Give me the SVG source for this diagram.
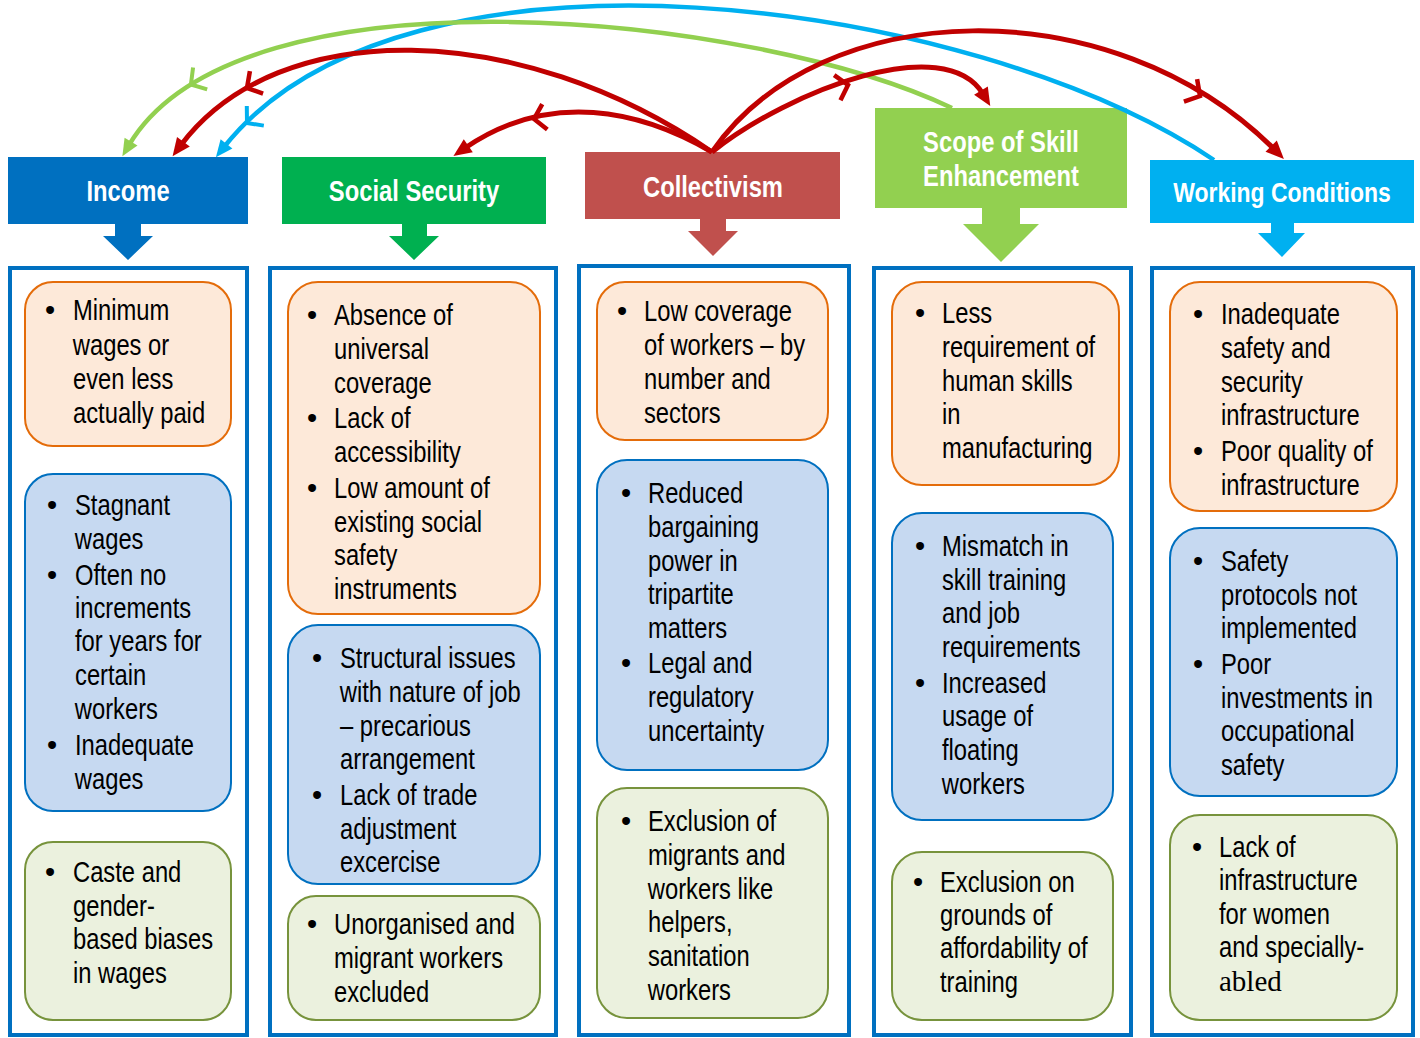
<svg xmlns="http://www.w3.org/2000/svg" width="1420" height="1038" viewBox="0 0 1420 1038">
<defs>
<style>
.col{fill:#fff;stroke:#0070C0;stroke-width:4}
.or{fill:#FDE9D9;stroke:#E46C0A;stroke-width:2}
.bl{fill:#C6D9F1;stroke:#0070C0;stroke-width:2}
.gr{fill:#EBF1DE;stroke:#77933C;stroke-width:2}
.hd{font-family:"Liberation Sans Narrow","Liberation Sans",Arial,sans-serif;font-weight:bold;font-size:29px;fill:#fff;text-anchor:middle;transform-box:fill-box;transform-origin:center;transform:scaleX(0.82)}
.tx{font-family:"Liberation Sans Narrow","Liberation Sans",Arial,sans-serif;font-size:29px;fill:#000;transform-box:fill-box;transform-origin:0 0;transform:scaleX(0.82)}
.bu{font-family:"Liberation Sans",Arial,sans-serif;font-size:29px;fill:#000;text-anchor:middle}
.sf{font-family:"Liberation Serif","Times New Roman",serif;transform:none}
.cr{fill:none;stroke:#C00000;stroke-width:5}
.cg{fill:none;stroke:#92D050;stroke-width:4.5}
.cb{fill:none;stroke:#00B0F0;stroke-width:4.5}
</style>
<marker id="ahR" markerUnits="userSpaceOnUse" markerWidth="30" markerHeight="30" viewBox="-15 -15 30 30" refX="0" refY="0" orient="auto" overflow="visible"><path d="M-4,-8 L14,0 L-4,8 z" fill="#C00000"/></marker>
<marker id="ahG" markerUnits="userSpaceOnUse" markerWidth="30" markerHeight="30" viewBox="-15 -15 30 30" refX="0" refY="0" orient="auto" overflow="visible"><path d="M-4,-7.5 L13,0 L-4,7.5 z" fill="#92D050"/></marker>
<marker id="ahB" markerUnits="userSpaceOnUse" markerWidth="30" markerHeight="30" viewBox="-15 -15 30 30" refX="0" refY="0" orient="auto" overflow="visible"><path d="M-4,-7.5 L13,0 L-4,7.5 z" fill="#00B0F0"/></marker>
<marker id="chR" markerUnits="userSpaceOnUse" markerWidth="30" markerHeight="30" viewBox="-15 -15 30 30" refX="0" refY="0" orient="auto" overflow="visible"><path d="M-11,-13 L0,0 L-11,13" fill="none" stroke="#C00000" stroke-width="4.5"/></marker>
<marker id="chG" markerUnits="userSpaceOnUse" markerWidth="30" markerHeight="30" viewBox="-15 -15 30 30" refX="0" refY="0" orient="auto" overflow="visible"><path d="M-11,-13 L0,0 L-11,13" fill="none" stroke="#92D050" stroke-width="4"/></marker>
<marker id="chB" markerUnits="userSpaceOnUse" markerWidth="30" markerHeight="30" viewBox="-15 -15 30 30" refX="0" refY="0" orient="auto" overflow="visible"><path d="M-11,-13 L0,0 L-11,13" fill="none" stroke="#00B0F0" stroke-width="4"/></marker>
</defs>
<rect width="1420" height="1038" fill="#fff"/>

<g id="income">
<rect x="8" y="157" width="240" height="67" fill="#0070C0"/>
<text class="hd" x="128" y="201">Income</text>
<polygon points="115,224 141,224 141,236 153,236 128,260 103,236 115,236" fill="#0070C0"/>
<rect class="col" x="10" y="268" width="237" height="767"/>
<rect class="or" x="25" y="282" width="206" height="164" rx="28"/>
<text class="bu" x="50" y="320">•</text>
<text class="tx" x="73" y="320">Minimum</text>
<text class="tx" x="73" y="355">wages or</text>
<text class="tx" x="73" y="389">even less</text>
<text class="tx" x="73" y="423">actually paid</text>
<rect class="bl" x="25" y="474" width="206" height="337" rx="28"/>
<text class="bu" x="52" y="515">•</text>
<text class="tx" x="75" y="515">Stagnant</text>
<text class="tx" x="75" y="549">wages</text>
<text class="bu" x="52" y="585">•</text>
<text class="tx" x="75" y="585">Often no</text>
<text class="tx" x="75" y="618">increments</text>
<text class="tx" x="75" y="651">for years for</text>
<text class="tx" x="75" y="685">certain</text>
<text class="tx" x="75" y="719">workers</text>
<text class="bu" x="52" y="755">•</text>
<text class="tx" x="75" y="755">Inadequate</text>
<text class="tx" x="75" y="789">wages</text>
<rect class="gr" x="25" y="842" width="206" height="178" rx="28"/>
<text class="bu" x="50" y="882">•</text>
<text class="tx" x="73" y="882">Caste and</text>
<text class="tx" x="73" y="916">gender-</text>
<text class="tx" x="73" y="949">based biases</text>
<text class="tx" x="73" y="983">in wages</text>
</g>

<g id="social-security">
<rect x="282" y="157" width="264" height="67" fill="#00B050"/>
<text class="hd" x="414" y="201">Social Security</text>
<polygon points="402,224 427,224 427,236 439,236 414,260 389,236 402,236" fill="#00B050"/>
<rect class="col" x="270" y="268" width="286" height="767"/>
<rect class="or" x="288" y="282" width="252" height="332" rx="30"/>
<text class="bu" x="312" y="325">•</text>
<text class="tx" x="334" y="325">Absence of</text>
<text class="tx" x="334" y="359">universal</text>
<text class="tx" x="334" y="393">coverage</text>
<text class="bu" x="312" y="428">•</text>
<text class="tx" x="334" y="428">Lack of</text>
<text class="tx" x="334" y="462">accessibility</text>
<text class="bu" x="312" y="498">•</text>
<text class="tx" x="334" y="498">Low amount of</text>
<text class="tx" x="334" y="532">existing social</text>
<text class="tx" x="334" y="565">safety</text>
<text class="tx" x="334" y="599">instruments</text>
<rect class="bl" x="288" y="625" width="252" height="259" rx="30"/>
<text class="bu" x="317" y="668">•</text>
<text class="tx" x="340" y="668">Structural issues</text>
<text class="tx" x="340" y="702">with nature of job</text>
<text class="tx" x="340" y="736">– precarious</text>
<text class="tx" x="340" y="769">arrangement</text>
<text class="bu" x="317" y="805">•</text>
<text class="tx" x="340" y="805">Lack of trade</text>
<text class="tx" x="340" y="839">adjustment</text>
<text class="tx" x="340" y="872">excercise</text>
<rect class="gr" x="288" y="896" width="252" height="124" rx="28"/>
<text class="bu" x="312" y="934">•</text>
<text class="tx" x="334" y="934">Unorganised and</text>
<text class="tx" x="334" y="968">migrant workers</text>
<text class="tx" x="334" y="1002">excluded</text>
</g>

<g id="collectivism">
<rect x="585" y="152" width="255" height="67" fill="#C0504D"/>
<text class="hd" x="713" y="197">Collectivism</text>
<polygon points="700,219 726,219 726,231 738,231 713,256 688,231 700,231" fill="#C0504D"/>
<rect class="col" x="579" y="266" width="270" height="769"/>
<rect class="or" x="597" y="282" width="231" height="158" rx="28"/>
<text class="bu" x="622" y="321">•</text>
<text class="tx" x="644" y="321">Low coverage</text>
<text class="tx" x="644" y="355">of workers – by</text>
<text class="tx" x="644" y="389">number and</text>
<text class="tx" x="644" y="423">sectors</text>
<rect class="bl" x="597" y="460" width="231" height="310" rx="30"/>
<text class="bu" x="626" y="503">•</text>
<text class="tx" x="648" y="503">Reduced</text>
<text class="tx" x="648" y="537">bargaining</text>
<text class="tx" x="648" y="571">power in</text>
<text class="tx" x="648" y="604">tripartite</text>
<text class="tx" x="648" y="638">matters</text>
<text class="bu" x="626" y="673">•</text>
<text class="tx" x="648" y="673">Legal and</text>
<text class="tx" x="648" y="707">regulatory</text>
<text class="tx" x="648" y="741">uncertainty</text>
<rect class="gr" x="597" y="788" width="231" height="230" rx="30"/>
<text class="bu" x="626" y="831">•</text>
<text class="tx" x="648" y="831">Exclusion of</text>
<text class="tx" x="648" y="865">migrants and</text>
<text class="tx" x="648" y="899">workers like</text>
<text class="tx" x="648" y="932">helpers,</text>
<text class="tx" x="648" y="966">sanitation</text>
<text class="tx" x="648" y="1000">workers</text>
</g>

<g id="skill-enhancement">
<rect x="875" y="108" width="252" height="100" fill="#92D050"/>
<text class="hd" x="1001" y="152">Scope of Skill</text>
<text class="hd" x="1001" y="186">Enhancement</text>
<polygon points="982,208 1020,208 1020,224 1039,224 1001,262 963,224 982,224" fill="#92D050"/>
<rect class="col" x="874" y="268" width="257" height="767"/>
<rect class="or" x="892" y="282" width="227" height="203" rx="30"/>
<text class="bu" x="920" y="323">•</text>
<text class="tx" x="942" y="323">Less</text>
<text class="tx" x="942" y="357">requirement of</text>
<text class="tx" x="942" y="391">human skills</text>
<text class="tx" x="942" y="424">in</text>
<text class="tx" x="942" y="458">manufacturing</text>
<rect class="bl" x="892" y="513" width="221" height="307" rx="30"/>
<text class="bu" x="920" y="556">•</text>
<text class="tx" x="942" y="556">Mismatch in</text>
<text class="tx" x="942" y="590">skill training</text>
<text class="tx" x="942" y="623">and job</text>
<text class="tx" x="942" y="657">requirements</text>
<text class="bu" x="920" y="693">•</text>
<text class="tx" x="942" y="693">Increased</text>
<text class="tx" x="942" y="726">usage of</text>
<text class="tx" x="942" y="760">floating</text>
<text class="tx" x="942" y="794">workers</text>
<rect class="gr" x="892" y="852" width="221" height="168" rx="30"/>
<text class="bu" x="918" y="892">•</text>
<text class="tx" x="940" y="892">Exclusion on</text>
<text class="tx" x="940" y="925">grounds of</text>
<text class="tx" x="940" y="958">affordability of</text>
<text class="tx" x="940" y="992">training</text>
</g>

<g id="working-conditions">
<rect x="1150" y="160" width="264" height="63" fill="#00B0F0"/>
<text class="hd" x="1282" y="202" style="font-size:28px">Working Conditions</text>
<polygon points="1271,223 1294,223 1294,233 1305,233 1282,257 1258,233 1271,233" fill="#00B0F0"/>
<rect class="col" x="1152" y="268" width="261" height="767"/>
<rect class="or" x="1170" y="282" width="227" height="229" rx="30"/>
<text class="bu" x="1198" y="324">•</text>
<text class="tx" x="1221" y="324">Inadequate</text>
<text class="tx" x="1221" y="358">safety and</text>
<text class="tx" x="1221" y="392">security</text>
<text class="tx" x="1221" y="425">infrastructure</text>
<text class="bu" x="1198" y="461">•</text>
<text class="tx" x="1221" y="461">Poor quality of</text>
<text class="tx" x="1221" y="495">infrastructure</text>
<rect class="bl" x="1170" y="528" width="227" height="268" rx="30"/>
<text class="bu" x="1198" y="571">•</text>
<text class="tx" x="1221" y="571">Safety</text>
<text class="tx" x="1221" y="605">protocols not</text>
<text class="tx" x="1221" y="638">implemented</text>
<text class="bu" x="1198" y="674">•</text>
<text class="tx" x="1221" y="674">Poor</text>
<text class="tx" x="1221" y="708">investments in</text>
<text class="tx" x="1221" y="741">occupational</text>
<text class="tx" x="1221" y="775">safety</text>
<rect class="gr" x="1170" y="815" width="227" height="205" rx="30"/>
<text class="bu" x="1197" y="857">•</text>
<text class="tx" x="1219" y="857">Lack of</text>
<text class="tx" x="1219" y="890">infrastructure</text>
<text class="tx" x="1219" y="924">for women</text>
<text class="tx" x="1219" y="957">and specially-</text>
<text class="tx sf" x="1219" y="991">abled</text>
</g>

<g id="connectors">
<path class="cb" d="M1214,160 C973,-2 404,-80 224,147" marker-end="url(#ahB)"/>
<path class="cg" d="M952,108 C755,14 239,-40 129,145" marker-end="url(#ahG)"/>
<path class="cr" d="M712,152 C520,20 279,15 181,145" marker-end="url(#ahR)"/>
<path class="cr" d="M712,152 C640,110 550,90 465,148" marker-end="url(#ahR)"/>
<path class="cr" d="M712,152 C790,90 945,31 983,94" marker-end="url(#ahR)"/>
<path class="cr" d="M712,152 C820,-5 1112,-13 1274,149" marker-end="url(#ahR)"/>
<path class="cr" d="M248.7,87 L247,88" marker-end="url(#chR)"/>
<path class="cr" d="M536,118.6 L534,119" marker-end="url(#chR)"/>
<path class="cr" d="M846,85.5 L848,85" marker-end="url(#chR)"/>
<path class="cr" d="M1198.3,95 L1200,96" marker-end="url(#chR)"/>
<path class="cg" d="M192.6,83.4 L190.9,84.5" marker-end="url(#chG)"/>
<path class="cb" d="M248.5,121.7 L247,123" marker-end="url(#chB)"/>
</g>
</svg>
